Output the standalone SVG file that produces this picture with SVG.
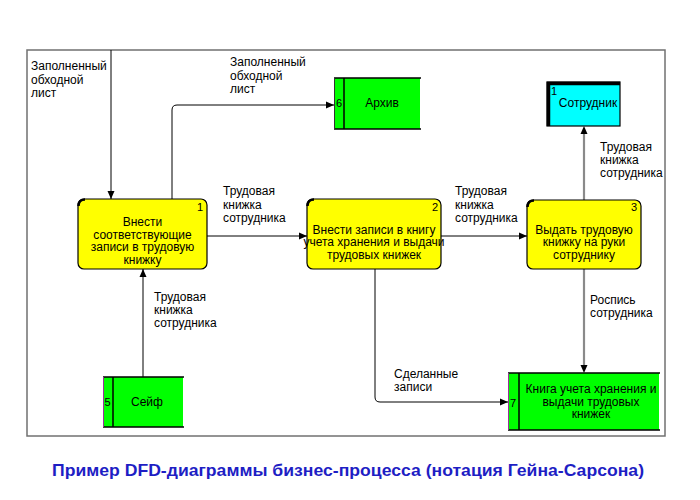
<svg xmlns="http://www.w3.org/2000/svg" width="700" height="500" viewBox="0 0 700 500">
<defs>
<marker id="ah" markerWidth="8" markerHeight="8" refX="8" refY="4" orient="auto" markerUnits="userSpaceOnUse">
<path d="M0,0.5 L8,4 L0,7.5 Z" fill="#000"/>
</marker>
<style>
text{font-family:"Liberation Sans",Arial,sans-serif;font-size:12px;fill:#000}
.c{text-anchor:middle}
.proc{fill:#ffff00;stroke:#000;stroke-width:1.2}
.notch{fill:none;stroke:#000;stroke-width:2.5}
.store{fill:#00ff00}
.sline{stroke:#000;stroke-width:1.5}
.flow{fill:none;stroke:#000;stroke-width:1}
.gflow{fill:none;stroke:#8a8a8a;stroke-width:2.2}
.num{font-size:11px}
.title{font-size:17px;font-weight:bold;fill:#1e1ec4}
</style>
</defs>
<rect x="0" y="0" width="700" height="500" fill="#fff"/>
<rect x="27" y="50" width="638" height="386" fill="none" stroke="#707070" stroke-width="1.5"/>

<g id="connectors">
<path class="flow" d="M111,50 V199" marker-end="url(#ah)"/>
<path class="flow" d="M172,199 V110 Q172,105 177,105 H334" marker-end="url(#ah)"/>
<path class="flow" d="M207,236 H307" marker-end="url(#ah)"/>
<path class="flow" d="M441,236 H527" marker-end="url(#ah)"/>
<path class="flow" d="M375,269 V397 Q375,402 380,402 H508" marker-end="url(#ah)"/>
<path class="flow" d="M143,377 V269" marker-end="url(#ah)"/>
<path class="gflow" d="M584,200 V134"/>
<path d="M584,126 L587.5,134 L580.5,134 Z" fill="#000"/>
<path class="gflow" d="M584,269 V365"/>
<path d="M584,373 L587.5,365 L580.5,365 Z" fill="#000"/>
<text x="31" y="70">Заполненный</text>
<text x="31" y="83.5">обходной</text>
<text x="31" y="97">лист</text>
<text x="230" y="66">Заполненный</text>
<text x="230" y="79.5">обходной</text>
<text x="230" y="93">лист</text>
<text x="223" y="195">Трудовая</text>
<text x="223" y="208.5">книжка</text>
<text x="223" y="222">сотрудника</text>
<text x="455" y="195">Трудовая</text>
<text x="455" y="208.5">книжка</text>
<text x="455" y="222">сотрудника</text>
<text x="600" y="151">Трудовая</text>
<text x="600" y="164">книжка</text>
<text x="600" y="177">сотрудника</text>
<text x="590" y="304">Роспись</text>
<text x="590" y="317">сотрудника</text>
<text x="394" y="378">Сделанные</text>
<text x="394" y="391">записи</text>
<text x="154" y="301">Трудовая</text>
<text x="154" y="314">книжка</text>
<text x="154" y="327">сотрудника</text>
</g>

<g id="p1">
<rect class="proc" x="78" y="199" width="129" height="70" rx="6"/>
<path class="notch" d="M78.5,206 Q78.5,199.5 85,199.5"/>
<text class="num" x="197" y="211">1</text>
<text class="c" x="142.5" y="226">Внести</text>
<text class="c" x="142.5" y="238.7">соответствующие</text>
<text class="c" x="142.5" y="251.4">записи в трудовую</text>
<text class="c" x="142.5" y="264">книжку</text>
</g>

<g id="p2">
<rect class="proc" x="307" y="199" width="134" height="70" rx="6"/>
<path class="notch" d="M307.5,206 Q307.5,199.5 314,199.5"/>
<text class="num" x="432" y="211">2</text>
<text class="c" x="374" y="233.5">Внести записи в книгу</text>
<text class="c" x="374" y="246">учета хранения и выдачи</text>
<text class="c" x="374" y="258.5">трудовых книжек</text>
</g>

<g id="p3">
<rect class="proc" x="527" y="200" width="114" height="69" rx="6"/>
<path class="notch" d="M527.5,207 Q527.5,200.5 534,200.5"/>
<text class="num" x="631" y="211">3</text>
<text class="c" x="584" y="233.5">Выдать трудовую</text>
<text class="c" x="584" y="246.2">книжку на руки</text>
<text class="c" x="584" y="259">сотруднику</text>
</g>

<g id="s6">
<rect class="store" x="334" y="78" width="86" height="51"/>
<path class="sline" d="M334,78 H421 M334,129 H421 M344,78 V129"/>
<path d="M334.5,78 V129" stroke="#333" stroke-width="1"/>
<text class="num" x="336" y="107">6</text>
<text class="c" x="382" y="107">Архив</text>
</g>

<g id="e1">
<rect x="547" y="82" width="73" height="44" fill="#00ffff" stroke="#000" stroke-width="1.2"/>
<path d="M548.5,126 V83.5 H620" fill="none" stroke="#000" stroke-width="3.5"/>
<text class="num" x="551" y="95">1</text>
<text class="c" x="588" y="107">Сотрудник</text>
</g>

<g id="s5">
<rect class="store" x="103" y="377" width="80" height="50"/>
<path class="sline" d="M103,377 H184 M103,427 H184 M113,377 V427"/>
<path d="M103.5,377 V427" stroke="#993399" stroke-width="1"/>
<text class="num" x="104.5" y="406">5</text>
<text class="c" x="147" y="406">Сейф</text>
</g>

<g id="s7">
<rect class="store" x="508" y="373" width="151" height="57"/>
<path class="sline" d="M508,373 H660 M508,430 H660 M519,373 V430"/>
<path d="M508.5,373 V430" stroke="#993399" stroke-width="1"/>
<text class="num" x="510" y="407">7</text>
<text class="c" x="591" y="393">Книга учета хранения и</text>
<text class="c" x="591" y="405.5">выдачи трудовых</text>
<text class="c" x="591" y="418">книжек</text>
</g>

<text class="title" x="52" y="475.5" textLength="592" lengthAdjust="spacingAndGlyphs">Пример DFD-диаграммы бизнес-процесса (нотация Гейна-Сарсона)</text>
</svg>
